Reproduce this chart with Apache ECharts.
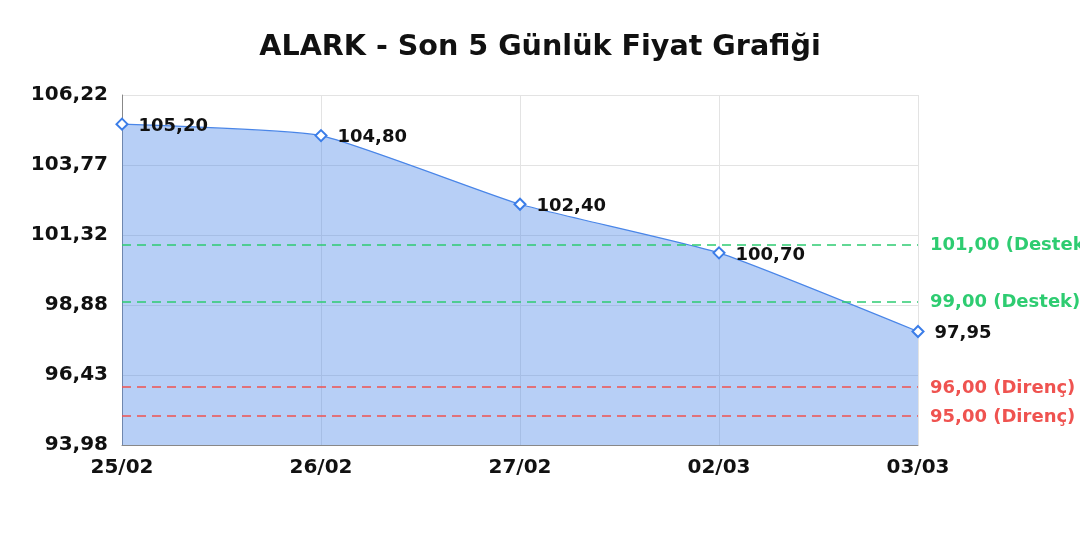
<!DOCTYPE html>
<html><head><meta charset="utf-8">
<script src="https://cdn.jsdelivr.net/npm/echarts@6/dist/echarts.min.js"></script>
<style>html,body{margin:0;padding:0;background:#fff}#c{width:1080px;height:540px}</style>
</head><body><div id="c"></div>
<script>
var categories = ['25/02','26/02','27/02','02/03','03/03'];
var prices = [105.20, 104.80, 102.40, 100.70, 97.95];
var supportLevels = [101.00, 99.00];
var resistanceLevels = [96.00, 95.00];
var yMin = 93.98, yMax = 106.22;

function fmt(v){ return v.toFixed(2).replace('.', ','); }
var FONT = '"DejaVu Sans", Verdana, sans-serif';
var GREEN = '#2ecc71', RED = '#ef5350';
var markData = [];
supportLevels.forEach(function(v){
  markData.push({yAxis: v, lineStyle:{color:GREEN}, label:{color:GREEN, formatter: fmt(v)+' (Destek)'}});
});
resistanceLevels.forEach(function(v){
  markData.push({yAxis: v, lineStyle:{color:RED}, label:{color:RED, formatter: fmt(v)+' (Direnç)'}});
});

var chart = echarts.init(document.getElementById('c'));
chart.setOption({
  animation:false,
  title:{text:'ALARK - Son 5 Günlük Fiyat Grafiği', left:'center', top:28,
    textStyle:{fontFamily:FONT, fontSize:28.6, fontWeight:'bold', color:'#111'}},
  grid:{left:122, right:162, top:95, bottom:95},
  xAxis:{type:'category', data:categories, boundaryGap:false,
    axisLine:{lineStyle:{color:'#888'}}, axisTick:{show:false},
    splitLine:{show:true, lineStyle:{color:'#e3e3e3'}},
    axisLabel:{fontFamily:FONT, fontSize:20, fontWeight:'bold', color:'#111', margin:13}},
  yAxis:{type:'value', min:yMin, max:yMax, interval:(yMax-yMin)/5,
    axisLine:{show:true, lineStyle:{color:'#888'}}, axisTick:{show:false},
    splitLine:{lineStyle:{color:'#e3e3e3'}},
    axisLabel:{fontFamily:FONT, fontSize:20, fontWeight:'bold', color:'#111', margin:14,
      formatter:function(v){return fmt(v);}}},
  series:[{
    type:'line', data:prices, smooth:0.15,
    symbol:'emptyDiamond', symbolSize:11,
    lineStyle:{color:'#4a86e8', width:1.2},
    itemStyle:{color:'#3b7de8', borderWidth:2},
    areaStyle:{color:'#4a86e8', opacity:0.4},
    label:{show:true, position:'right', distance:10, offset:[0,2], fontFamily:FONT, fontSize:18, fontWeight:'bold', color:'#111',
      formatter:function(p){return fmt(p.value);}},
    markLine:{symbol:'none', silent:true, data:markData, z:5,
      lineStyle:{type:[9,6], width:1.5, opacity:1},
      label:{position:'end', distance:12, offset:[0,1], fontFamily:FONT, fontSize:18, fontWeight:'bold'}}
  }]
});
</script></body></html>
